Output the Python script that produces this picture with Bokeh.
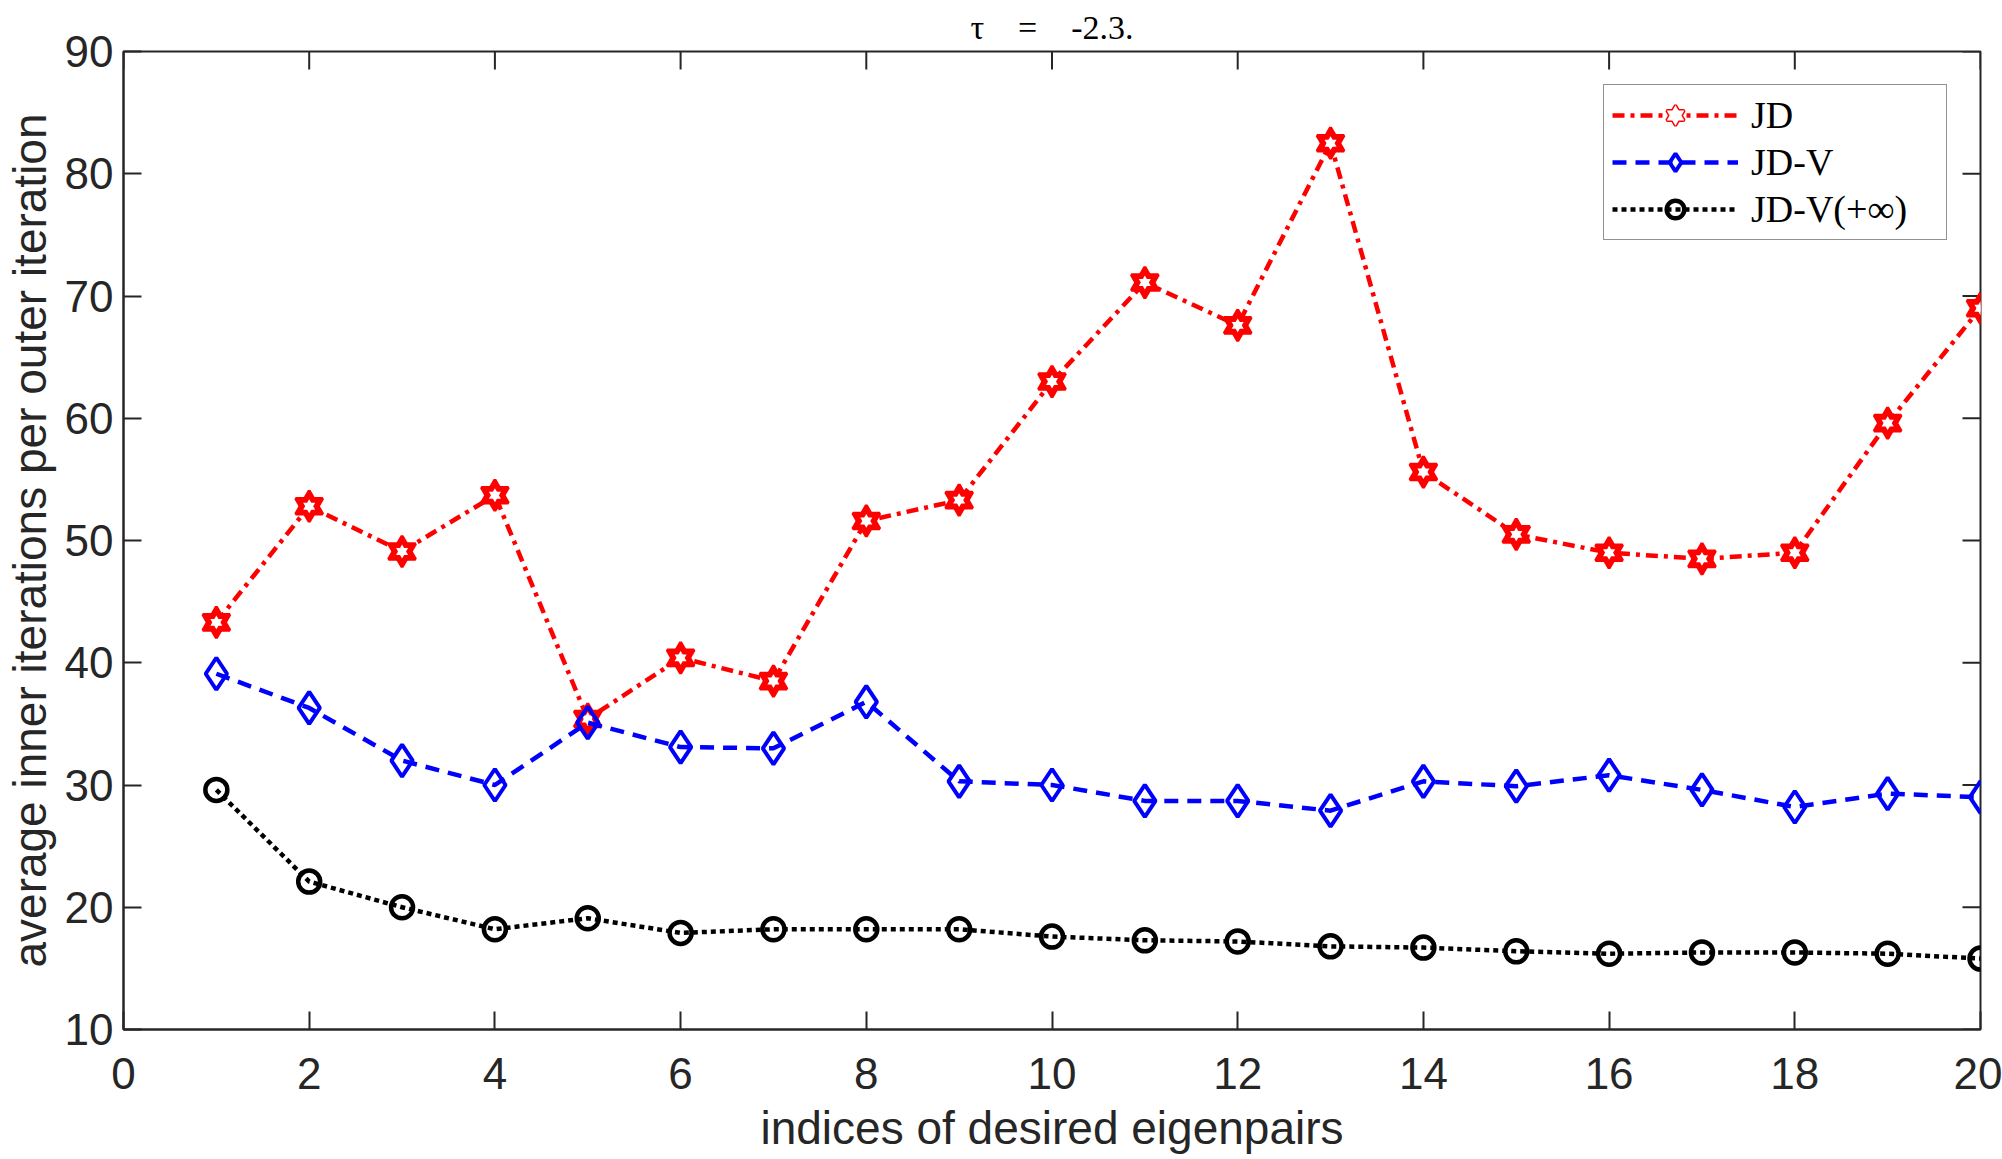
import math
from bokeh.plotting import figure
from bokeh.models import Range1d, FixedTicker, Legend, LegendItem
from bokeh.embed import file_html
from bokeh.resources import INLINE

# Average inner iterations per outer iteration for each desired eigenpair
idx = list(range(1, 21))
jd = [43.3, 52.8, 49.1, 53.7, 35.4, 40.4, 38.5, 51.6, 53.3, 63.0,
      71.1, 67.6, 82.5, 55.6, 50.5, 49.0, 48.5, 49.0, 59.6, 69.0]
jdv = [39.1, 36.3, 32.0, 30.0, 35.1, 33.1, 33.0, 36.8, 30.3, 30.0,
       28.7, 28.7, 27.9, 30.3, 29.9, 30.8, 29.6, 28.2, 29.3, 29.0]
jdv_inf = [29.6, 22.1, 20.0, 18.2, 19.1, 17.9, 18.2, 18.2, 18.2, 17.6,
           17.3, 17.2, 16.8, 16.7, 16.4, 16.2, 16.3, 16.3, 16.2, 15.8]

x_ticks = list(range(0, 21, 2))
y_ticks = list(range(10, 91, 10))

AX = "#262626"
SANS = "Liberation Sans"
SERIF = "Liberation Serif"
TICK_LEN = 18

p = figure(width=2002, height=1159,
           x_range=Range1d(x_ticks[0], x_ticks[-1]),
           y_range=Range1d(y_ticks[0], y_ticks[-1]),
           output_backend="svg", toolbar_location=None,
           min_border_left=120, min_border_right=22,
           min_border_top=51, min_border_bottom=130)
p.background_fill_color = "white"
p.border_fill_color = "white"
p.outline_line_color = AX
p.outline_line_width = 2
p.xgrid.visible = False
p.ygrid.visible = False

p.title.text = "\u03c4\u2003=\u2003-2.3."
p.title.align = "center"
p.title.text_font = SERIF
p.title.text_font_style = "normal"
p.title.text_font_size = "34px"
p.title.text_color = "black"
p.title.standoff = 12

def style_axis(ax, ticks):
    ax.ticker = FixedTicker(ticks=ticks)
    ax.axis_line_color = AX
    ax.axis_line_width = 2
    ax.major_tick_line_color = AX
    ax.major_tick_line_width = 2
    ax.major_tick_in = TICK_LEN
    ax.major_tick_out = 0
    ax.minor_tick_in = 0
    ax.minor_tick_out = 0
    ax.major_label_text_font = SANS
    ax.major_label_text_font_size = "44px"
    ax.major_label_text_color = AX
    ax.axis_label_text_font = SANS
    ax.axis_label_text_font_size = "46px"
    ax.axis_label_text_color = AX
    ax.axis_label_text_font_style = "normal"

xa = p.xaxis[0]
ya = p.yaxis[0]
style_axis(xa, x_ticks)
style_axis(ya, y_ticks)
xa.axis_label = "indices of desired eigenpairs"
ya.axis_label = "average inner iterations per outer iteration"
xa.major_label_standoff = 28
xa.axis_label_standoff = 10
ya.major_label_standoff = 10
ya.axis_label_standoff = 6

# Inward ticks along the top and right edges of the box (clipped to the frame,
# so only the inner half of each dash shows)
p.scatter(x_ticks, [y_ticks[-1]] * len(x_ticks), marker="dash", angle=math.pi / 2,
          size=2 * TICK_LEN, line_color=AX, line_width=2)
p.scatter([x_ticks[-1]] * len(y_ticks), y_ticks, marker="dash",
          size=2 * TICK_LEN, line_color=AX, line_width=2)

RED, BLUE, BLACK = "#ff0000", "#0000ff", "#000000"
LW = 4.5

# JD: dash-dot line with hexagram markers (two stacked triangles)
jd_line = p.line(idx, jd, line_color=RED, line_width=LW, line_dash="12 6 4 6")
jd_up = p.scatter(idx, jd, marker="triangle", size=27, fill_color=RED,
                  line_color=RED, line_width=3)
jd_dn = p.scatter(idx, jd, marker="inverted_triangle", size=27, fill_color=RED,
                  line_color=RED, line_width=3)
jd_wu = p.scatter(idx, jd, marker="triangle", size=12, fill_color="white",
                  line_color=None)
jd_wd = p.scatter(idx, jd, marker="inverted_triangle", size=12, fill_color="white",
                  line_color=None)

# JD-V: dashed line with diamonds
jdv_line = p.line(idx, jdv, line_color=BLUE, line_width=LW, line_dash="14 9")
jdv_mk = p.scatter(idx, jdv, marker="diamond", size=32, fill_color=None,
                   line_color=BLUE, line_width=4)

# JD-V(+inf): dotted line with circles
inf_line = p.line(idx, jdv_inf, line_color=BLACK, line_width=LW, line_dash="5 4")
inf_mk = p.scatter(idx, jdv_inf, marker="circle", size=22, fill_color=None,
                   line_color=BLACK, line_width=4.5)

legend = Legend(items=[
    LegendItem(label="JD", renderers=[jd_line, jd_up, jd_dn, jd_wu, jd_wd]),
    LegendItem(label="JD-V", renderers=[jdv_line, jdv_mk]),
    LegendItem(label="JD-V(+\u221e)", renderers=[inf_line, inf_mk]),
], location="top_right")
legend.margin = 33
legend.border_line_color = AX
legend.border_line_width = 1.5
legend.background_fill_color = "white"
legend.background_fill_alpha = 1.0
legend.glyph_width = 126
legend.glyph_height = 44
legend.spacing = 3
legend.padding = 8
legend.label_standoff = 13
legend.label_width = 187
legend.label_text_font = SERIF
legend.label_text_font_size = "38px"
legend.label_text_color = "black"
p.add_layout(legend)

open("out.html", "w").write(file_html(p, INLINE))
